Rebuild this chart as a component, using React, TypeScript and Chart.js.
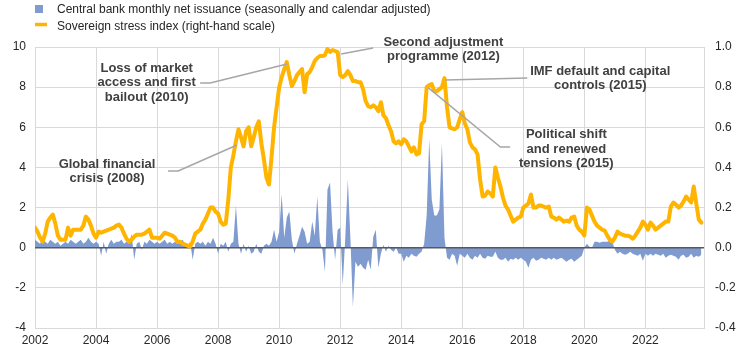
import React, { useEffect, useRef } from 'react';
import { Chart, registerables } from 'chart.js';

Chart.register(...registerables);

// ---------- DATA ----------
const startYear = 2002;

// Central bank monthly net issuance (left axis), Jan 2002 ... Nov 2023
const issuance: number[] = [
  0.4, 0.3, 0.2, 0.5, 0.3, 0.2, 0.4, 0.3, 0.2, 0.3, 0.1, 0.2, // 2002
  0.3, 0.2, 0.4, 0.3, 0.2, 0.3, 0.4, 0.2, 0.3, 0.5, 0.3, 0.2, // 2003
  0.3, 0.2, -0.4, 0.3, -0.3, 0.2, 0.4, 0.2, 0.3, 0.3, 0.4, 0.2, // 2004
  0.3, 0.2, 0.7, -0.6, 0.2, 0.3, -0.1, 0.3, 0.2, 0.4, 0.3, 0.2, // 2005
  0.3, 0.2, 0.3, 0.4, 0.2, 0.3, 0.2, 0.3, 0.2, 0.3, 0.4, 0.2, // 2006
  0.1, 0.3, -0.6, 0.2, 0.3, 0.2, 0.3, 0.1, 0.3, 0.2, 0.5, 0.2, // 2007
  -0.3, 0.2, 0.1, 0.3, -0.2, 0.2, 0.3, 2.1, 0.2, -0.3, 0.2, -0.2, // 2008
  0.1, -0.3, -0.2, 0.2, -0.2, -0.3, 0.1, 0.2, 0.1, 0.3, 0.9, 0.3, // 2009
  0.8, 2.65, 0.5, 1.5, 1.8, 0.4, -0.3, 0.2, 0.6, 1.05, 0.8, 0.2, // 2010
  0.3, 1.3, 0.6, 2.55, 0.3, -0.1, -1.2, 2.9, 3.25, 0.8, -0.6, 0.9, // 2011
  1.0, -1.85, 0.5, 3.4, 0.5, -2.95, -0.7, -0.95, -0.8, -1.0, -1.1, -0.6, // 2012
  -1.1, 0.55, 0.9, -1.0, -0.3, 0.15, -0.2, 0.1, -0.1, -0.2, 0.0, -0.3, // 2013
  -0.3, -0.7, -0.4, -0.5, -0.3, -0.4, -0.45, -0.3, -0.2, 0.2, 1.6, 5.4, // 2014
  2.4, 1.6, 1.6, 1.9, 5.2, 0.5, -0.5, -0.6, -0.3, -0.4, -0.9, -0.3, // 2015
  -0.4, -0.5, -0.3, -0.5, -0.6, -0.4, -0.5, -0.3, -0.5, -0.55, -0.4, -0.45, // 2016
  -0.45, -0.2, -0.5, -0.6, -0.6, -0.5, -0.7, -0.55, -0.6, -0.5, -0.6, -0.5, // 2017
  -0.6, -0.7, -1.0, -0.6, -0.5, -0.65, -0.6, -0.5, -0.55, -0.6, -0.5, -0.6, // 2018
  -0.5, -0.6, -0.55, -0.5, -0.6, -0.7, -0.6, -0.55, -0.7, -0.6, -0.5, -0.4, // 2019
  0.0, 0.2, 0.05, 0.0, 0.3, 0.3, 0.25, 0.3, 0.3, 0.3, 0.35, 0.3, // 2020
  -0.1, -0.3, -0.2, -0.3, -0.35, -0.3, -0.2, -0.3, -0.35, -0.4, -0.3, -0.65, // 2021
  -0.3, -0.4, -0.3, -0.4, -0.3, -0.35, -0.4, -0.3, -0.5, -0.4, -0.35, -0.4, // 2022
  -0.45, -0.6, -0.4, -0.35, -0.5, -0.45, -0.3, -0.5, -0.4, -0.45, -0.35, // 2023
];

// Sovereign stress index (right axis), Jan 2002 ... Nov 2023
const stressIndex: number[] = [
  0.10, 0.08, 0.05, 0.03, 0.07, 0.13, 0.15, 0.165, 0.12, 0.06, 0.04, 0.04, // 2002
  0.04, 0.10, 0.06, 0.09, 0.09, 0.09, 0.09, 0.11, 0.155, 0.14, 0.11, 0.07, // 2003
  0.05, 0.08, 0.075, 0.08, 0.085, 0.09, 0.095, 0.10, 0.11, 0.115, 0.10, 0.07, // 2004
  0.045, 0.03, 0.04, 0.055, 0.065, 0.065, 0.065, 0.07, 0.08, 0.09, 0.05, 0.05, // 2005
  0.05, 0.045, 0.06, 0.075, 0.07, 0.065, 0.06, 0.05, 0.03, 0.03, 0.02, 0.015, // 2006
  0.01, 0.005, 0.03, 0.07, 0.08, 0.09, 0.12, 0.14, 0.17, 0.20, 0.20, 0.18, // 2007
  0.17, 0.13, 0.115, 0.12, 0.24, 0.40, 0.46, 0.53, 0.59, 0.55, 0.505, 0.58, // 2008
  0.60, 0.505, 0.55, 0.60, 0.63, 0.52, 0.44, 0.35, 0.315, 0.45, 0.60, 0.70, // 2009
  0.80, 0.85, 0.89, 0.925, 0.86, 0.805, 0.83, 0.86, 0.875, 0.89, 0.775, 0.865, // 2010
  0.875, 0.90, 0.93, 0.945, 0.955, 0.955, 0.96, 0.99, 0.975, 0.985, 0.98, 0.975, // 2011
  0.86, 0.85, 0.86, 0.88, 0.86, 0.83, 0.83, 0.825, 0.825, 0.79, 0.73, 0.705, // 2012
  0.70, 0.71, 0.70, 0.68, 0.725, 0.66, 0.645, 0.61, 0.58, 0.53, 0.52, 0.53, // 2013
  0.515, 0.54, 0.53, 0.505, 0.48, 0.50, 0.465, 0.47, 0.615, 0.63, 0.80, 0.81, // 2014
  0.815, 0.78, 0.78, 0.79, 0.80, 0.845, 0.70, 0.60, 0.595, 0.59, 0.60, 0.64, // 2015
  0.675, 0.62, 0.59, 0.525, 0.50, 0.49, 0.465, 0.34, 0.255, 0.26, 0.28, 0.27, // 2016
  0.255, 0.40, 0.35, 0.305, 0.25, 0.21, 0.19, 0.16, 0.13, 0.14, 0.15, 0.155, // 2017
  0.20, 0.21, 0.22, 0.265, 0.20, 0.20, 0.21, 0.21, 0.205, 0.20, 0.205, 0.155, // 2018
  0.15, 0.14, 0.15, 0.14, 0.13, 0.135, 0.13, 0.15, 0.155, 0.11, 0.09, 0.08, // 2019
  0.06, 0.20, 0.19, 0.16, 0.13, 0.11, 0.10, 0.09, 0.085, 0.06, 0.04, 0.03, // 2020
  0.05, 0.08, 0.07, 0.065, 0.06, 0.06, 0.055, 0.045, 0.06, 0.08, 0.10, 0.13, // 2021
  0.115, 0.09, 0.125, 0.11, 0.09, 0.10, 0.11, 0.12, 0.13, 0.13, 0.205, 0.225, // 2022
  0.215, 0.20, 0.21, 0.23, 0.255, 0.24, 0.225, 0.305, 0.22, 0.14, 0.125, // 2023
];

const xTickYears = [2002, 2004, 2006, 2008, 2010, 2012, 2014, 2016, 2018, 2020, 2022];
const xMax = 2023.92;
const leftMin = -4, leftMax = 10, leftStep = 2;
const rightMin = -0.4, rightMax = 1.0, rightStep = 0.2;

const legendLabels = [
  'Central bank monthly net issuance (seasonally and calendar adjusted)',
  'Sovereign stress index (right-hand scale)',
];

// annotation text (x: year, y: left-axis value of first line) and leader lines
const annotations = [
  { lines: ['Loss of market', 'access and first', 'bailout (2010)'], x: 2005.66, y: 8.95,
    leader: [[2007.41, 8.21], [2007.74, 8.21], [2010.26, 9.15]] },
  { lines: ['Global financial', 'crisis (2008)'], x: 2004.36, y: 4.17,
    leader: [[2006.36, 3.82], [2006.69, 3.82], [2008.62, 5.12]] },
  { lines: ['Second adjustment', 'programme (2012)'], x: 2015.38, y: 10.25,
    leader: [[2012.03, 9.65], [2013.08, 9.95]] },
  { lines: ['IMF default and capital', 'controls (2015)'], x: 2020.52, y: 8.8,
    leader: [[2015.44, 8.36], [2018.13, 8.46]] },
  { lines: ['Political shift', 'and renewed', 'tensions (2015)'], x: 2019.41, y: 5.62,
    leader: [[2014.89, 7.96], [2017.25, 5.02], [2017.57, 5.02]] },
];

// ---------- STYLE ----------
const FONT = '"Liberation Sans", Arial, sans-serif';
const BLUE = '#7f9bd0';
const ORANGE = '#ffb400';
const GRID = '#d9d9d9';
const TEXT = '#262626';

const overlayPlugin = {
  id: 'overlay',
  afterDatasetDraw(chart: any, args: any) {
    if (args.index !== 1) return;
    const { ctx, chartArea } = chart;
    const y = chart.scales.y.getPixelForValue(0);
    ctx.save();
    ctx.strokeStyle = '#595959';
    ctx.lineWidth = 1.5;
    ctx.beginPath();
    ctx.moveTo(chartArea.left, y);
    ctx.lineTo(chartArea.right, y);
    ctx.stroke();
    ctx.restore();
  },
  afterDraw(chart: any) {
    const { ctx } = chart;
    const xs = chart.scales.x;
    const ys = chart.scales.y;
    ctx.save();
    // legend
    ctx.fillStyle = BLUE;
    ctx.fillRect(35, 5, 8, 8);
    ctx.strokeStyle = ORANGE;
    ctx.lineWidth = 3.5;
    ctx.beginPath();
    ctx.moveTo(35, 24.5);
    ctx.lineTo(47, 24.5);
    ctx.stroke();
    ctx.fillStyle = TEXT;
    ctx.font = `12px ${FONT}`;
    ctx.textAlign = 'left';
    ctx.textBaseline = 'alphabetic';
    ctx.fillText(legendLabels[0], 57, 13);
    ctx.fillText(legendLabels[1], 57, 29.5);
    // annotations
    for (const a of annotations) {
      ctx.strokeStyle = '#a6a6a6';
      ctx.lineWidth = 1.5;
      ctx.beginPath();
      a.leader.forEach((p, i) => {
        const px = xs.getPixelForValue(p[0]);
        const py = ys.getPixelForValue(p[1]);
        if (i === 0) ctx.moveTo(px, py); else ctx.lineTo(px, py);
      });
      ctx.stroke();
      ctx.fillStyle = '#404040';
      ctx.font = `bold 13px ${FONT}`;
      ctx.textAlign = 'center';
      ctx.textBaseline = 'middle';
      const cx = xs.getPixelForValue(a.x);
      const cy = ys.getPixelForValue(a.y);
      a.lines.forEach((t, i) => ctx.fillText(t, cx, cy + i * 14.5));
    }
    ctx.restore();
  },
};

export default function App() {
  const ref = useRef<HTMLCanvasElement | null>(null);

  useEffect(() => {
    if (!ref.current) return;
    const months = issuance.map((_, i) => startYear + i / 12);
    const chart = new Chart(ref.current, {
      type: 'line',
      data: {
        datasets: [
          {
            label: legendLabels[1],
            data: stressIndex.map((v, i) => ({ x: startYear + i / 12, y: v })),
            yAxisID: 'y1',
            borderColor: ORANGE,
            borderWidth: 4,
            borderJoinStyle: 'round',
            borderCapStyle: 'round',
            pointRadius: 0,
            fill: false,
            tension: 0,
          },
          {
            label: legendLabels[0],
            data: issuance.map((v, i) => ({ x: months[i], y: v })),
            yAxisID: 'y',
            borderColor: 'rgba(0,0,0,0)',
            borderWidth: 0,
            backgroundColor: BLUE,
            pointRadius: 0,
            fill: 'origin',
            tension: 0,
          },
        ],
      },
      options: {
        animation: false,
        responsive: false,
        devicePixelRatio: 1,
        layout: { padding: { top: 47, left: 0, right: 0, bottom: 0 } },
        plugins: { legend: { display: false }, tooltip: { enabled: false } },
        scales: {
          x: {
            type: 'linear',
            min: startYear,
            max: xMax,
            afterBuildTicks: (s: any) => { s.ticks = xTickYears.map((v) => ({ value: v })); },
            afterFit: (s: any) => { s.height = 28; },
            ticks: {
              callback: (v: any) => String(v),
              color: TEXT,
              font: { family: FONT, size: 12 },
              padding: 5,
              maxRotation: 0,
              autoSkip: false,
            },
            grid: { color: GRID, lineWidth: 1, drawTicks: false },
            border: { display: false },
          },
          y: {
            position: 'left',
            min: leftMin,
            max: leftMax,
            afterFit: (s: any) => { s.width = 35; },
            ticks: {
              stepSize: leftStep,
              callback: (v: any) => String(v),
              color: TEXT,
              font: { family: FONT, size: 12 },
              padding: 9,
            },
            grid: { color: GRID, lineWidth: 1, drawTicks: false },
            border: { display: false },
          },
          y1: {
            position: 'right',
            min: rightMin,
            max: rightMax,
            afterFit: (s: any) => { s.width = 40; },
            ticks: {
              stepSize: rightStep,
              callback: (v: any) => (Math.abs(Number(v)) < 1e-9 ? 0 : Number(v)).toFixed(1),
              color: TEXT,
              font: { family: FONT, size: 12 },
              padding: 11,
            },
            grid: { display: false, drawTicks: false },
            border: { display: true, color: GRID, width: 1 },
          },
        },
      },
      plugins: [overlayPlugin],
    } as any);
    return () => chart.destroy();
  }, []);

  return (
    <div style={{ position: 'absolute', left: 0, top: 0, width: 744, height: 356, background: '#fff' }}>
      <canvas ref={ref} width={744} height={356} style={{ display: 'block' }} />
    </div>
  );
}
